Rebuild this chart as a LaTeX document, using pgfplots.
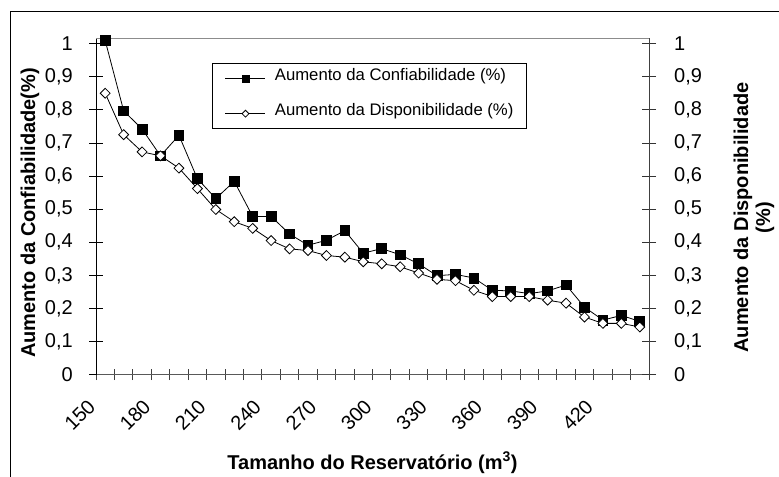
\documentclass[border=0pt]{standalone}
\usepackage{pgfplots}
\usepackage{pgfplotstable}
\pgfplotsset{compat=1.18}
\usepackage{fontspec}
\setmainfont{Liberation Sans}

\pgfplotstableread{
x conf disp
150 1.009 0.850
160 0.797 0.725
170 0.742 0.673
180 0.661 0.661
190 0.723 0.624
200 0.592 0.562
210 0.532 0.499
220 0.584 0.462
230 0.478 0.442
240 0.478 0.405
250 0.425 0.380
260 0.391 0.375
270 0.406 0.360
280 0.435 0.355
290 0.367 0.341
300 0.381 0.335
310 0.362 0.326
320 0.335 0.307
330 0.299 0.288
340 0.303 0.284
350 0.292 0.255
360 0.255 0.236
370 0.253 0.236
380 0.245 0.236
390 0.253 0.225
400 0.271 0.216
410 0.204 0.174
420 0.165 0.155
430 0.179 0.155
440 0.161 0.144
}\datatable

\pgfplotsset{
  myax/.style={
    scale only axis, width=553bp, height=336.4bp,
    at={(96bp,102.3bp)}, anchor=south west,
    xmin=145, xmax=445, ymin=0, ymax=1.016,
    ytick={0,0.1,0.2,0.3,0.4,0.5,0.6,0.7,0.8,0.9,1},
    clip=false,
    tick align=center,
    major tick length=14bp,
    minor tick length=11bp,
    /pgf/number format/fixed,
    /pgf/number format/precision=1,
    /pgf/number format/use comma,
    /pgf/number format/assume math mode=true,
    ticklabel style={font=\fontsize{20bp}{22bp}\selectfont},
  },
  confstyle/.style={black, line width=0.8bp, mark=square*, mark size=4.9bp, mark options={solid, fill=black}},
  dispstyle/.style={black, line width=0.8bp, mark=square*, mark size=3.5bp, mark options={solid, fill=white, rotate=45}},
}

\begin{document}
\begin{tikzpicture}
\useasboundingbox (0bp,0bp) rectangle (779bp,477bp);
\draw[line width=1bp] (10bp,-2bp) -- (10bp,465bp) -- (781bp,465bp);

\begin{axis}[myax,
  axis x line*=bottom, axis y line*=left,
  xtick={150,180,...,420},
  minor xtick={145,155,...,445},
  major x tick style={draw=none},
  minor x tick style={black!75, line width=0.9bp},
  y tick style={black, line width=0.8bp},
  x axis line style={black!65, line width=1.5bp},
  y axis line style={black, line width=0.8bp},
  xticklabel style={inner sep=0pt, xshift=-13.5bp, yshift=-21.5bp, rotate=45, anchor=east},
  yticklabel style={inner sep=0pt, anchor=east, xshift=-16bp},
]
\draw[black!45, line width=0.9bp] (rel axis cs:0,1) -- (rel axis cs:1,1);
\addplot[confstyle] table[x=x, y=conf]{\datatable};
\end{axis}

\begin{axis}[myax,
  axis x line=none, axis y line*=right,
  y tick style={black!80, line width=0.8bp},
  y axis line style={black!75, line width=1bp},
  yticklabel style={inner sep=0pt, anchor=west, xshift=18bp},
  legend cell align=left,
  legend image code/.code={\draw[mark repeat=2, mark phase=2, #1, /tikz/every mark/.append style={scale=0.7}] plot coordinates {(0bp,0bp) (20bp,0bp) (40bp,0bp)};},
  legend style={at={(0.2092,0.9257)}, anchor=north west, draw=black, line width=0.8bp, fill=white,
    font=\fontsize{16.7bp}{20bp}\selectfont,
    inner xsep=13bp, inner ysep=4.7bp, row sep=14.4bp, column sep=9bp,
    nodes={inner sep=0pt, text height=12bp, text depth=8.6bp}},
]
\addlegendimage{confstyle}
\addplot[dispstyle] table[x=x, y=disp]{\datatable};
\legend{Aumento da Confiabilidade (\%), Aumento da Disponibilidade (\%)}
\end{axis}

\node[rotate=90, anchor=base, font=\bfseries\fontsize{20bp}{23bp}\selectfont] at (35bp,264bp) {Aumento da Confiabilidade(\%)};
\node[rotate=90, anchor=base, font=\bfseries\fontsize{20bp}{23bp}\selectfont] at (748bp,259.5bp) {Aumento da Disponibilidade};
\node[rotate=90, anchor=base, font=\bfseries\fontsize{20bp}{23bp}\selectfont] at (770bp,259.5bp) {(\%)};
\node[anchor=base, font=\bfseries\fontsize{20bp}{23bp}\selectfont] at (372.5bp,7.7bp) {Tamanho do Reservatório (m\textsuperscript{3})};
\end{tikzpicture}
\end{document}
